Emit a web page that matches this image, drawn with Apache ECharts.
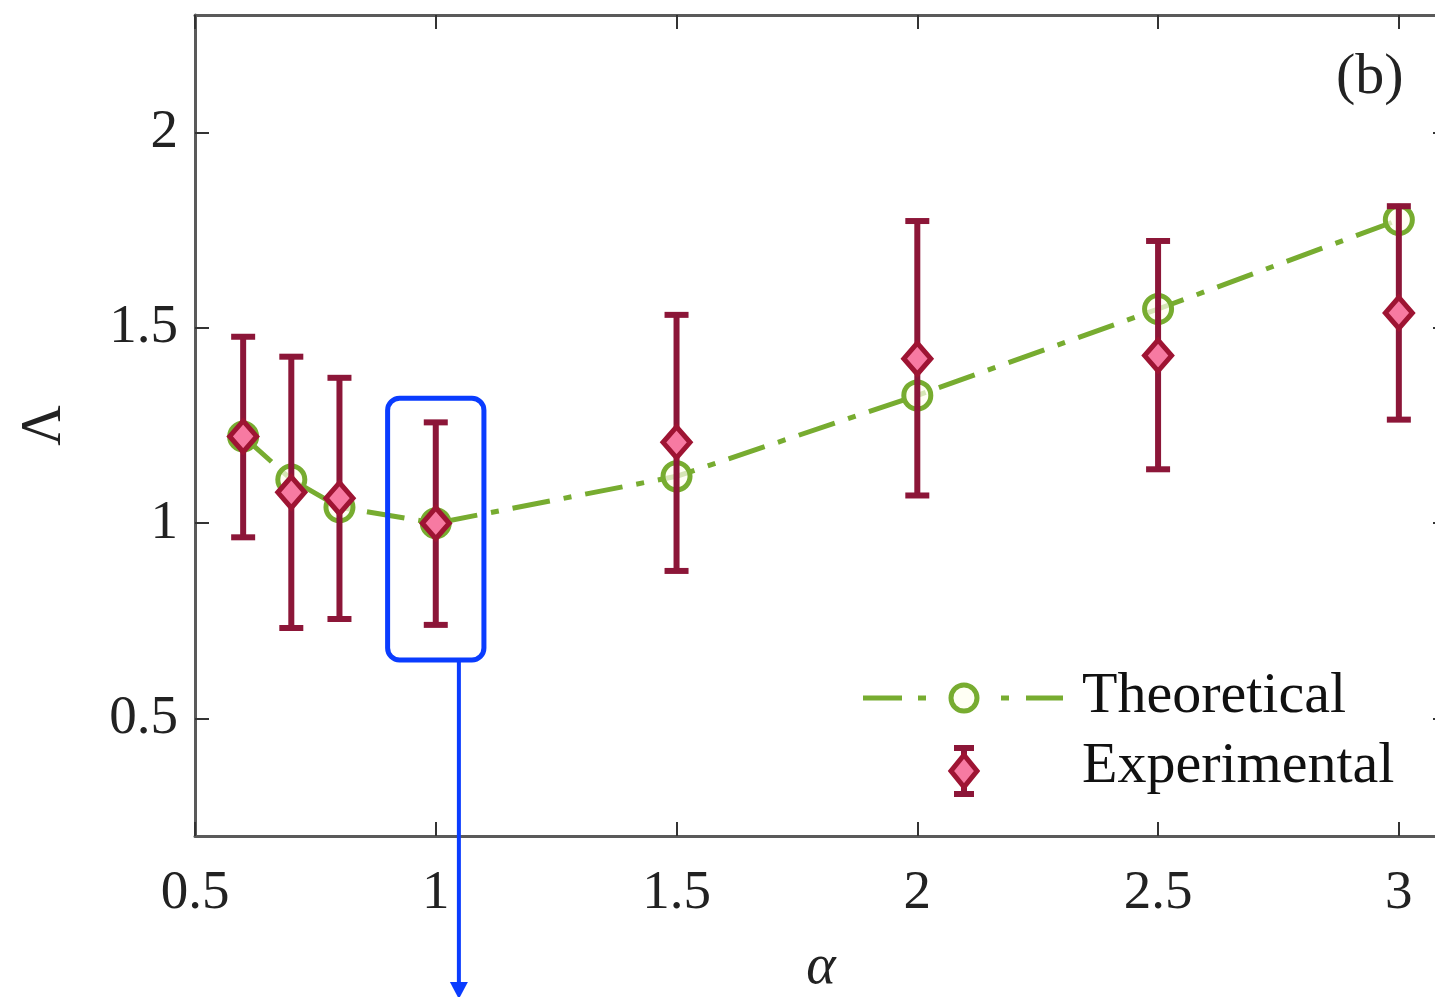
<!DOCTYPE html>
<html>
<head>
<meta charset="utf-8">
<script src="https://cdn.jsdelivr.net/npm/echarts@6/dist/echarts.min.js"></script>
<style>
  html, body { margin: 0; padding: 0; background: #fff; }
  #chart { width: 1435px; height: 997px; }
</style>
</head>
<body>
<div id="chart"></div>
<script>
// alpha values where Lambda was evaluated / measured
const alphaVals = [0.6, 0.7, 0.8, 1, 1.5, 2, 2.5, 3];
// theoretical Lambda
const theoretical = [1.222, 1.112, 1.041, 1.0, 1.12, 1.327, 1.548, 1.776];
// experimental Lambda with error bounds
const experimental = [1.222, 1.079, 1.064, 1.0, 1.207, 1.421, 1.429, 1.538];
const errLow = [0.964, 0.732, 0.755, 0.740, 0.878, 1.071, 1.138, 1.265];
const errHigh = [1.477, 1.426, 1.372, 1.258, 1.533, 1.773, 1.722, 1.811];
// tick labels
const xTicks = [0.5, 1, 1.5, 2, 2.5, 3];
const yTicks = [0.5, 1, 1.5, 2];

const FONT = '"Liberation Serif", "DejaVu Serif", serif';
const GREEN = '#77ac30';
const DARKRED = '#8c1638';
const EDGE = '#9e1433';
const PINK = '#f77aa2';
const AXIS = '#5a5a5a';
const BLUE = '#0a3cff';
const DASH = [38, 14, 8, 14];

const theoData = alphaVals.map((a, i) => [a, theoretical[i]]);
const expData = alphaVals.map((a, i) => [a, experimental[i]]);
const errData = alphaVals.map((a, i) => [a, errLow[i], errHigh[i]]);

const chart = echarts.init(document.getElementById('chart'), null, { renderer: 'canvas' });

const baseX = {
  type: 'value', min: 0.5, max: 3.1,
  splitLine: { show: false },
  axisLine: { show: true, onZero: false, lineStyle: { color: AXIS, width: 3 } },
  axisTick: { show: true, inside: true, length: 14, customValues: xTicks, lineStyle: { color: '#333', width: 2 } }
};
const baseY = {
  type: 'value', min: 0.2, max: 2.3,
  splitLine: { show: false },
  axisLine: { show: true, onZero: false, lineStyle: { color: AXIS, width: 3 } },
  axisTick: { show: true, inside: true, length: 14, customValues: yTicks, lineStyle: { color: '#333', width: 2 } }
};

const option = {
  backgroundColor: '#fff',
  animation: false,
  grid: { left: 195, top: 15, width: 1252, height: 821, containLabel: false, outerBoundsMode: 'none' },
  xAxis: [
    Object.assign({}, baseX, {
      position: 'bottom',
      name: 'α', nameLocation: 'middle', nameGap: 104,
      nameTextStyle: { fontFamily: FONT, fontStyle: 'italic', fontSize: 56, color: '#222' },
      axisLabel: { customValues: xTicks, margin: 30, fontFamily: FONT, fontSize: 55, color: '#222',
        formatter: v => String(v) }
    }),
    Object.assign({}, baseX, { position: 'top', axisLabel: { show: false } })
  ],
  yAxis: [
    Object.assign({}, baseY, {
      position: 'left',
      name: 'Λ', nameLocation: 'middle', nameGap: 122, nameRotate: 90,
      nameTextStyle: { fontFamily: FONT, fontSize: 56, color: '#222' },
      axisLabel: { customValues: yTicks, margin: 17, fontFamily: FONT, fontSize: 55, color: '#222',
        formatter: v => String(v) }
    }),
    Object.assign({}, baseY, { position: 'right', axisLabel: { show: false } })
  ],
  series: [
    {
      name: 'Theoretical', type: 'line', data: theoData,
      xAxisIndex: 0, yAxisIndex: 0, z: 2,
      symbol: 'circle', symbolSize: 27,
      lineStyle: { color: GREEN, width: 5, type: DASH },
      itemStyle: { color: 'rgba(255,255,240,0.7)', borderColor: GREEN, borderWidth: 5 }
    },
    {
      name: 'ErrorBars', type: 'custom', data: errData, z: 3,
      xAxisIndex: 0, yAxisIndex: 0,
      renderItem: function (params, api) {
        const x = api.value(0);
        const top = api.coord([x, api.value(2)]);
        const bot = api.coord([x, api.value(1)]);
        const cap = 12;
        const style = { stroke: DARKRED, lineWidth: 6 };
        return {
          type: 'group',
          children: [
            { type: 'line', shape: { x1: top[0], y1: top[1], x2: bot[0], y2: bot[1] }, style: style },
            { type: 'line', shape: { x1: top[0] - cap, y1: top[1], x2: top[0] + cap, y2: top[1] }, style: style },
            { type: 'line', shape: { x1: bot[0] - cap, y1: bot[1], x2: bot[0] + cap, y2: bot[1] }, style: style }
          ]
        };
      }
    },
    {
      name: 'Experimental', type: 'scatter', data: expData, z: 4,
      xAxisIndex: 0, yAxisIndex: 0,
      symbol: 'diamond', symbolSize: [27, 31],
      itemStyle: { color: PINK, borderColor: EDGE, borderWidth: 5, opacity: 1 }
    }
  ]
};
chart.setOption(option);

// Legend, panel tag and the highlight box around alpha = 1
const legendY1 = 698, legendY2 = 771, lx = 964;
const boxTL = chart.convertToPixel({ xAxisIndex: 0, yAxisIndex: 0 }, [0.9, 1.32]);
const boxBR = chart.convertToPixel({ xAxisIndex: 0, yAxisIndex: 0 }, [1.1, 0.65]);
const arrowX = chart.convertToPixel({ xAxisIndex: 0 }, 1.048);

const greenSeg = (x1, x2) => ({ type: 'line', shape: { x1: x1, y1: legendY1, x2: x2, y2: legendY1 },
  style: { stroke: GREEN, lineWidth: 5 } });

chart.setOption({
  graphic: [
    { type: 'text', left: 1336, top: 49,
      style: { text: '(b)', font: '58px ' + FONT, fill: '#222' } },
    // Theoretical legend entry: dash, dot, marker, dot, dash
    greenSeg(863, 902), greenSeg(918, 926), greenSeg(1001, 1009), greenSeg(1026, 1063),
    { type: 'circle', shape: { cx: lx, cy: legendY1, r: 13 },
      style: { fill: 'rgba(255,255,240,0.7)', stroke: GREEN, lineWidth: 5 } },
    { type: 'text', left: 1082, top: legendY1 - 30,
      style: { text: 'Theoretical', font: '58px ' + FONT, fill: '#111' } },
    // Experimental legend entry
    { type: 'line', shape: { x1: lx, y1: legendY2 - 23, x2: lx, y2: legendY2 + 23 },
      style: { stroke: DARKRED, lineWidth: 6 } },
    { type: 'line', shape: { x1: lx - 10, y1: legendY2 - 23, x2: lx + 10, y2: legendY2 - 23 },
      style: { stroke: DARKRED, lineWidth: 6 } },
    { type: 'line', shape: { x1: lx - 10, y1: legendY2 + 23, x2: lx + 10, y2: legendY2 + 23 },
      style: { stroke: DARKRED, lineWidth: 6 } },
    { type: 'polygon', shape: { points: [[lx, legendY2 - 16], [lx + 13, legendY2], [lx, legendY2 + 16], [lx - 13, legendY2]] },
      style: { fill: PINK, stroke: EDGE, lineWidth: 5 } },
    { type: 'text', left: 1082, top: legendY2 - 33,
      style: { text: 'Experimental', font: '58px ' + FONT, fill: '#111' } },
    // highlight box and pointer arrow
    { type: 'rect', z: 10,
      shape: { x: boxTL[0], y: boxTL[1], width: boxBR[0] - boxTL[0], height: boxBR[1] - boxTL[1], r: 12 },
      style: { fill: 'none', stroke: BLUE, lineWidth: 5 } },
    { type: 'line', z: 10, shape: { x1: arrowX, y1: boxBR[1], x2: arrowX, y2: 985 },
      style: { stroke: BLUE, lineWidth: 4 } },
    { type: 'polygon', z: 10, shape: { points: [[arrowX - 9, 982], [arrowX + 9, 982], [arrowX, 999]] },
      style: { fill: BLUE } }
  ]
});
</script>
</body>
</html>
